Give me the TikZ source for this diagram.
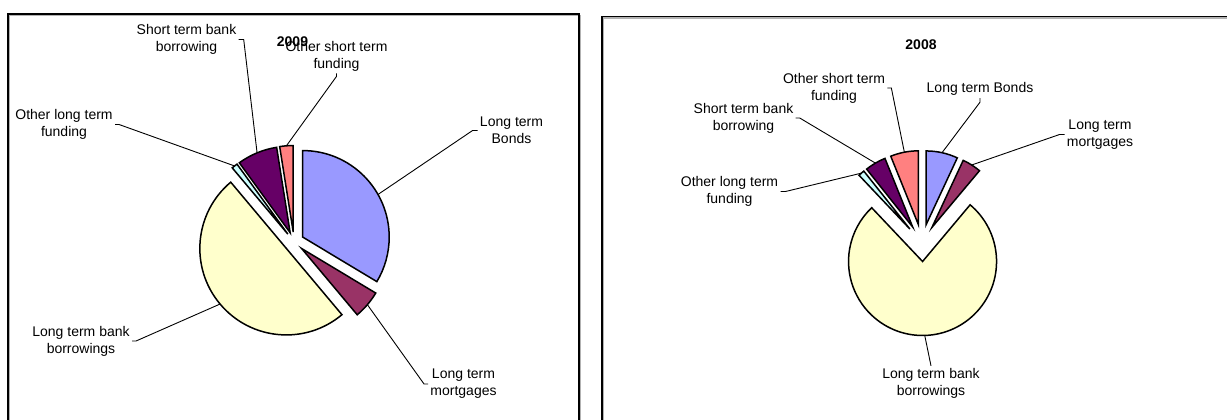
\documentclass[tikz,border=0pt]{standalone}
\usepackage{fontspec}
\setmainfont{Liberation Sans}

\definecolor{bondsblue}{HTML}{9999FF}
\definecolor{mortplum}{HTML}{993366}
\definecolor{bankcream}{HTML}{FFFFCC}
\definecolor{oltcyan}{HTML}{CCFFFF}
\definecolor{sbbpurple}{HTML}{660066}
\definecolor{ostpink}{HTML}{FF8080}

\tikzset{
  slice/.style={draw=black, line width=0.75pt},
  leader/.style={draw=black, line width=0.45pt},
  lbl/.style={align=center, inner sep=1pt, font=\fontsize{7}{8.5}\selectfont},
  ttl/.style={inner sep=1pt, font=\fontsize{7}{8.5}\selectfont\bfseries},
  frame/.style={line width=0.75pt}
}

% fill, from, to, explode, radius, name of the arc midpoint
\newcommand{\pieslice}[6]{%
  \draw[slice, fill=#1] ({(#2+#3)/2}:#4) -- ++(#2:#5)
    arc[start angle=#2, end angle=#3, radius=#5] -- cycle;
  \coordinate (#6) at ({(#2+#3)/2}:{#4+#5});
}

\begin{document}
\begin{tikzpicture}[x=0.5pt,y=0.5pt]
    \useasboundingbox (0,0) rectangle (1227,419);
    \clip (0,0) rectangle (1227,419);
    \fill[white] (0,0) rectangle (1227,419);

    % frames
    \begin{scope}[frame]
        \draw[gray!60] (9.5,-10) -- (9.5,403.5) -- (580.5,403.5) -- (580.5,-10);
        \draw (8,-10) -- (8,405) -- (579,405) -- (579,-10);
        \draw[gray!60] (603.5,-10) -- (603.5,401) -- (1240,401);
        \draw (602,-10) -- (602,402.5) -- (1240,402.5);
    \end{scope}

    % 2009
    \begin{scope}[shift={(294,177)}]
        \pieslice{bondsblue}{90}{-31}{10}{86.5}{a-bonds}
        \pieslice{mortplum}{-31}{-50}{10}{86.5}{a-mort}
        \pieslice{bankcream}{-50}{-230}{10}{86.5}{a-bank}
        \pieslice{oltcyan}{-230}{-234}{10}{86.5}{a-olt}
        \pieslice{sbbpurple}{-234}{-261}{10}{86.5}{a-sbb}
        \pieslice{ostpink}{-261}{-270}{10}{86.5}{a-ost}
    \end{scope}

    \node[ttl] (t2009) at (292.5,377) {2009};
    \node[lbl] (lsbb) at (186.5,379.5) {Short term bank\\borrowing};
    \node[lbl] (lost) at (336.5,363) {Other short term\\funding};
    \node[lbl] (lolt) at (64,294.5) {Other long term\\funding};
    \node[lbl] (lbonds) at (511.5,288.5) {Long term\\Bonds};
    \node[lbl] (lmort) at (463.5,35) {Long term\\mortgages};
    \node[lbl] (lbank) at (81,78) {Long term bank\\borrowings};

    \begin{scope}[leader]
        \draw (lsbb.east) -- ++(5,0) -- (a-sbb);
        \draw (lost.south) -- ++(0,-3) -- (a-ost);
        \draw (lolt.east) -- ++(4,0) -- (a-olt);
        \draw (lbonds.west) -- ++(-5,0) -- (a-bonds);
        \draw (lmort.west) -- ++(-4,0) -- (a-mort);
        \draw (lbank.east) -- ++(4,0) -- (a-bank);
    \end{scope}

    % 2008
    \begin{scope}[shift={(922,176)}]
        \pieslice{bondsblue}{90}{65}{18.5}{74}{b-bonds}
        \pieslice{mortplum}{65}{50}{18.5}{74}{b-mort}
        \pieslice{bankcream}{50}{-226.6}{18.5}{74}{b-bank}
        \pieslice{oltcyan}{-226.6}{-231.5}{18.5}{74}{b-olt}
        \pieslice{sbbpurple}{-231.5}{-248}{18.5}{74}{b-sbb}
        \pieslice{ostpink}{-248}{-270}{18.5}{74}{b-ost}
    \end{scope}

    \node[ttl] (t2008) at (921,374) {2008};
    \node[lbl] (rost) at (834,331) {Other short term\\funding};
    \node[lbl] (rsbb) at (743.5,301) {Short term bank\\borrowing};
    \node[lbl] (rolt) at (729.5,227.5) {Other long term\\funding};
    \node[lbl] (rbonds) at (980,329.7) {Long term Bonds};
    \node[lbl] (rmort) at (1100,284.5) {Long term\\mortgages};
    \node[lbl] (rbank) at (931,35.7) {Long term bank\\borrowings};

    \begin{scope}[leader]
        \draw (rost.east) -- ++(4,0) -- (b-ost);
        \draw (rsbb.east) -- ++(4,0) -- (b-sbb);
        \draw (rolt.east) -- ++(5,0) -- (b-olt);
        \draw (rbonds.south) -- ++(0,-4) -- (b-bonds);
        \draw (rmort.west) -- ++(-5,0) -- (b-mort);
        \draw (rbank.north) -- (b-bank);
    \end{scope}
\end{tikzpicture}
\end{document}
